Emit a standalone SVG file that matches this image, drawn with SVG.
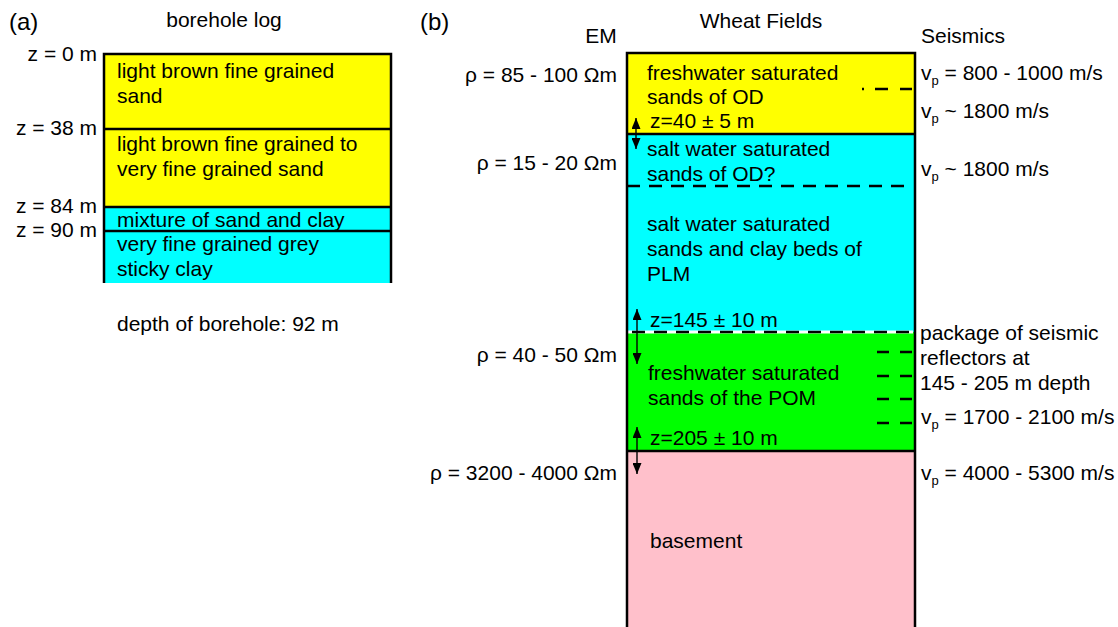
<svg xmlns="http://www.w3.org/2000/svg" width="1118" height="627" viewBox="0 0 1118 627">
<style>
text{font-family:"Liberation Sans",Arial,sans-serif;font-size:21px;fill:#000}
.r{text-anchor:end}
.sub{font-size:13px}
.b{stroke:#000;stroke-width:2.5;fill:none}
.dash{stroke:#000;stroke-width:2.5;stroke-dasharray:13 9}
.arr{stroke:#000;stroke-width:1.4;marker-start:url(#ah);marker-end:url(#ah)}
</style>
<defs>
<marker id="ah" viewBox="0 0 11 9" refX="11" refY="4.5" markerWidth="11" markerHeight="9" markerUnits="userSpaceOnUse" orient="auto-start-reverse"><path d="M0,0 L11,4.5 L0,9 Z" fill="#000"/></marker>
</defs>
<rect width="1118" height="627" fill="#fff"/>
<!-- (a) borehole log -->
<g id="panel-a">
<text x="9" y="30" style="font-size:24px">(a)</text>
<text x="224" y="27" text-anchor="middle">borehole log</text>
<g id="a-layer1"><rect x="104" y="54" width="287" height="75" fill="#ffff00"/>
<text x="117" y="78">light brown fine grained</text><text x="117" y="103">sand</text></g>
<g id="a-layer2"><rect x="104" y="129" width="287" height="78" fill="#ffff00"/>
<text x="117" y="151">light brown fine grained to</text><text x="117" y="176">very fine grained sand</text></g>
<g id="a-layer3"><rect x="104" y="207" width="287" height="24" fill="#00ffff"/>
<text x="117" y="227">mixture of sand and clay</text></g>
<g id="a-layer4"><rect x="104" y="231" width="287" height="52" fill="#00ffff"/>
<text x="117" y="251">very fine grained grey</text><text x="117" y="276">sticky clay</text></g>
<path class="b" d="M104,283 V54 H391 V283 M104,129 H391 M104,207 H391 M104,231 H391"/>
<text class="r" x="97" y="61">z = 0 m</text>
<text class="r" x="97" y="135">z = 38 m</text>
<text class="r" x="97" y="213">z = 84 m</text>
<text class="r" x="97" y="237">z = 90 m</text>
<text x="117" y="331">depth of borehole: 92 m</text>
</g>
<!-- (b) -->
<g id="panel-b">
<text x="420" y="30" style="font-size:24px">(b)</text>
<text x="601" y="43" text-anchor="middle">EM</text>
<text x="761" y="28" text-anchor="middle">Wheat Fields</text>
<text x="963" y="43" text-anchor="middle">Seismics</text>
<g id="b-layer1"><rect x="627" y="53" width="288" height="81" fill="#ffff00"/>
<text x="647" y="80">freshwater saturated</text><text x="647" y="104">sands of OD</text>
<text x="650" y="128">z=40 ± 5 m</text></g>
<g id="b-layer2"><rect x="627" y="134" width="288" height="198" fill="#00ffff"/>
<text x="647" y="156">salt water saturated</text><text x="647" y="181">sands of OD?</text>
<text x="647" y="231">salt water saturated</text><text x="647" y="256">sands and clay beds of</text><text x="647" y="281">PLM</text>
<text x="650" y="327">z=145 ± 10 m</text></g>
<g id="b-layer3"><rect x="627" y="332" width="288" height="119" fill="#00ff00"/>
<text x="648" y="380">freshwater saturated</text><text x="648" y="405">sands of the POM</text>
<text x="650" y="445">z=205 ± 10 m</text></g>
<g id="b-layer4"><rect x="627" y="451" width="288" height="180" fill="#ffc0cb"/>
<text x="650" y="548">basement</text></g>
<line x1="627" y1="332" x2="913" y2="332" stroke="#fff" stroke-width="3"/>
<path class="b" d="M627,630 V53 H915 V630 M627,134 H915 M627,451 H915"/>
<text class="r" x="617" y="82">ρ = 85 - 100 Ωm</text>
<text class="r" x="617" y="170">ρ = 15 - 20 Ωm</text>
<text class="r" x="617" y="362">ρ = 40 - 50 Ωm</text>
<text class="r" x="617" y="480">ρ = 3200 - 4000 Ωm</text>
<text x="921" y="80">v<tspan class="sub" dy="5">p</tspan><tspan dy="-5"> = 800 - 1000 m/s</tspan></text>
<text x="921" y="118">v<tspan class="sub" dy="5">p</tspan><tspan dy="-5"> ~ 1800 m/s</tspan></text>
<text x="921" y="176">v<tspan class="sub" dy="5">p</tspan><tspan dy="-5"> ~ 1800 m/s</tspan></text>
<text x="920" y="340">package of seismic</text>
<text x="920" y="365">reflectors at</text>
<text x="920" y="390">145 - 205 m depth</text>
<text x="921" y="424">v<tspan class="sub" dy="5">p</tspan><tspan dy="-5"> = 1700 - 2100 m/s</tspan></text>
<text x="921" y="480">v<tspan class="sub" dy="5">p</tspan><tspan dy="-5"> = 4000 - 5300 m/s</tspan></text>
</g>
<g id="connectors">
<line class="dash" x1="627" y1="186" x2="913" y2="186"/>
<line class="dash" x1="632" y1="332" x2="913" y2="332" stroke-dasharray="13 10"/>
<path class="b" d="M862,89 h2 M875,89 h13 M900,89 h12"/>
<path class="b" d="M877,352 h12 M900,352 h12 M877,376 h12 M900,376 h12 M877,399 h12 M900,399 h12 M877,423 h12 M900,423 h12"/>
<line class="arr" x1="636" y1="118" x2="636" y2="149"/>
<line class="arr" x1="637" y1="309" x2="637" y2="364"/>
<line class="arr" x1="637" y1="427" x2="637" y2="474"/>
</g>
</svg>
